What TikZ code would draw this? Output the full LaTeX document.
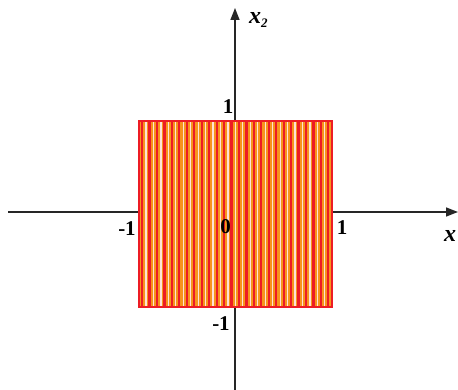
\documentclass[tikz,border=0pt]{standalone}
\usepackage{fontspec}
\setmainfont{Liberation Serif}
\usetikzlibrary{arrows.meta}
\definecolor{sqred}{RGB}{237,28,36}
\definecolor{sqorange}{RGB}{247,148,29}
\definecolor{sqpale}{RGB}{255,225,215}
\begin{document}
\begin{tikzpicture}[x=1pt,y=-1pt,
  axis/.style={line width=1.5pt,draw=black!85,-{Triangle[length=12pt,width=9pt]}},
  lbl/.style={font=\bfseries\fontsize{21}{21}\selectfont,inner sep=0pt},
  var/.style={font=\bfseries\itshape\fontsize{24}{24}\selectfont,inner sep=0pt}]
\useasboundingbox (0,0) rectangle (458,390);
% axes
\coordinate (xl) at (8,212);
\coordinate (xr) at (458,212);
\coordinate (yb) at (235,390);
\coordinate (yt) at (235,8);
\draw[axis] (xl) -- (xr);
\draw[axis] (yb) -- (yt);
% square
\fill[sqorange] (139,121) rectangle (332,307);
\foreach \i in {0,...,25}{
  \fill[sqred] ({141+7.45*\i},121) rectangle ({143.2+7.45*\i},307);
  \fill[sqpale] ({145.4+7.45*\i},121) rectangle ({146.6+7.45*\i},307);
}
\draw[sqred,line width=2.6pt] (139,121) rectangle (332,307);
% labels
\node[lbl] (one) at (228,107) {1};
\node[lbl] (mone) at (127,229) {-1};
\node[lbl] (zero) at (225.5,227) {0};
\node[lbl] (onex) at (342,228) {1};
\node[lbl] (money) at (221,324) {-1};
\node[var] (xlab) at (450,236) {x};
\node[var,anchor=west] (x2lab) at (249,20) {x\raisebox{-4pt}{\fontsize{13}{13}\selectfont 2}};
\end{tikzpicture}
\end{document}
